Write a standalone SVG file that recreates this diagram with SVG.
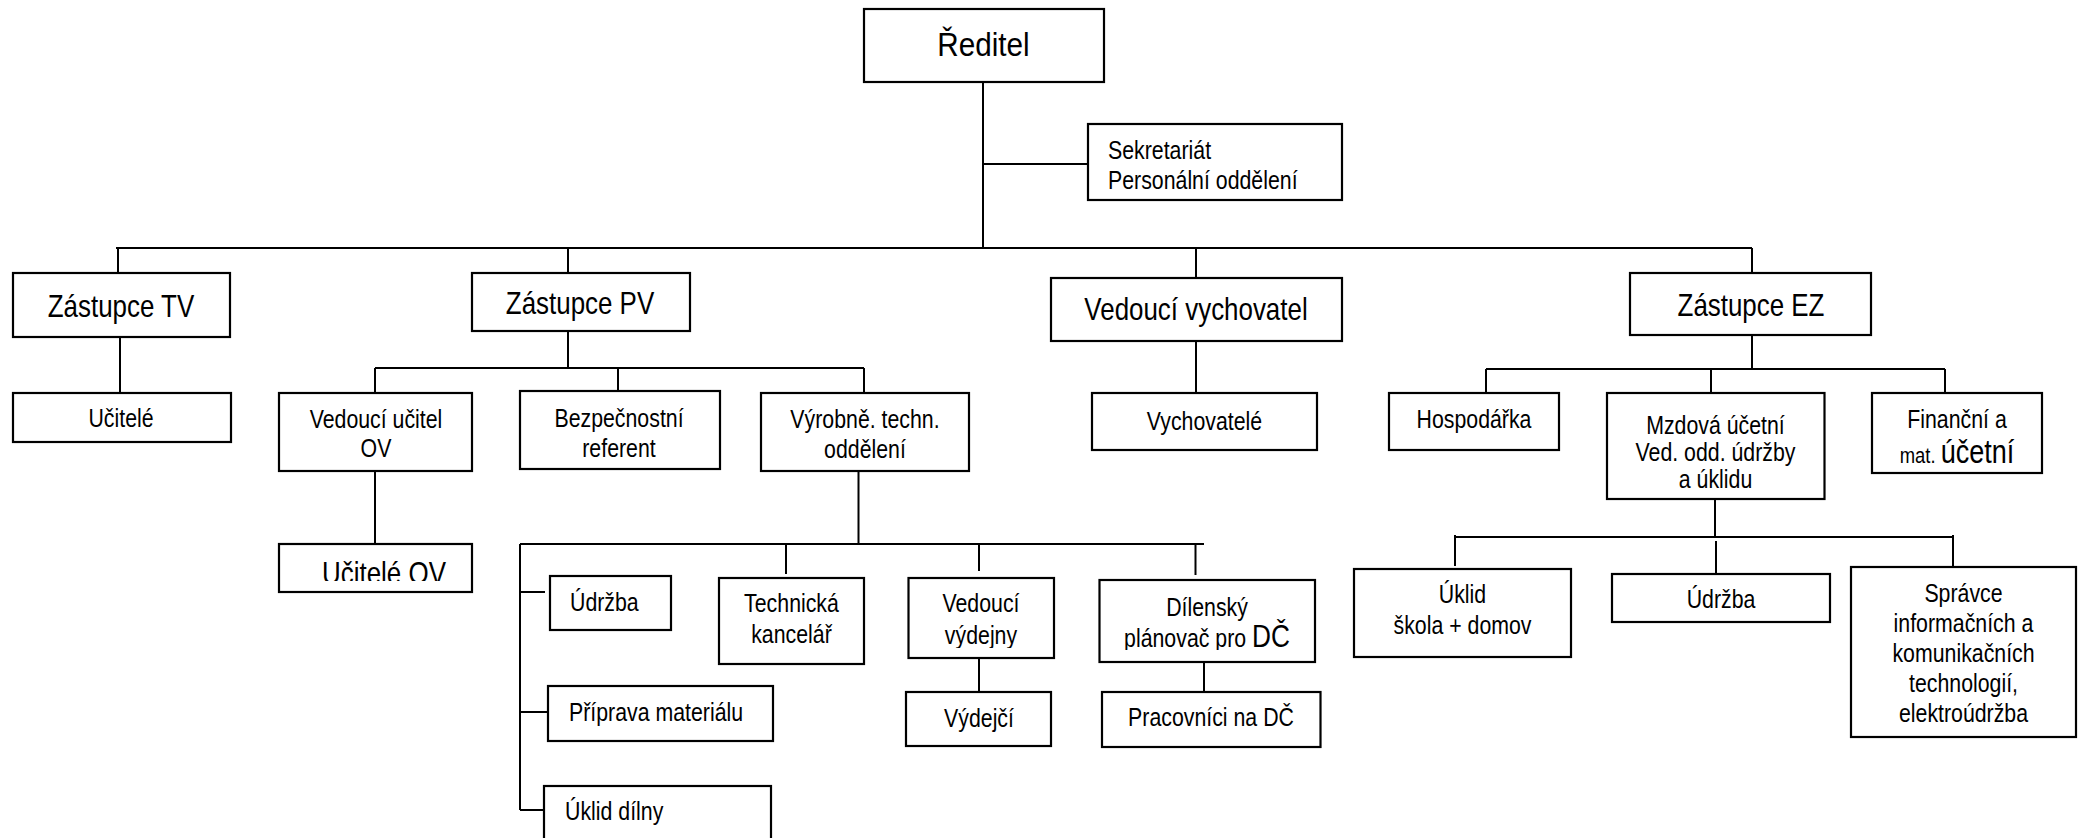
<svg xmlns="http://www.w3.org/2000/svg" width="2087" height="838" viewBox="0 0 2087 838">
<style>
  .box { fill: #fff; stroke: #000; stroke-width: 2.2; }
  .ln { fill: none; stroke: #000; stroke-width: 2; }
  text { font-family: "Liberation Sans", Arial, sans-serif; fill: #000; }
  .c { text-anchor: middle; }
  .s { text-anchor: start; }
  .big { font-size: 32px; }
  .sm { font-size: 26px; }
</style>
<defs>
  <clipPath id="clipUcOV"><rect x="279" y="544" width="193" height="37"/></clipPath>
  <clipPath id="clipVyd"><rect x="908" y="578" width="146" height="70"/></clipPath>
  <clipPath id="clipDil"><rect x="1099" y="580" width="216" height="70"/></clipPath>
  <clipPath id="clipMzd"><rect x="1607" y="393" width="218" height="97"/></clipPath>
</defs>
<rect width="2087" height="838" fill="#fff"/>

<g id="connectors">
  <path class="ln" d="M983,82 V248"/>
  <path class="ln" d="M983,164 H1088"/>
  <path class="ln" d="M116,248 H1752"/>
  <path class="ln" d="M118,248 V273"/>
  <path class="ln" d="M568,248 V273"/>
  <path class="ln" d="M1196,248 V278"/>
  <path class="ln" d="M1752,248 V273"/>
  <path class="ln" d="M120,337 V393"/>
  <path class="ln" d="M568,331 V368"/>
  <path class="ln" d="M375,368 H864"/>
  <path class="ln" d="M375,368 V393"/>
  <path class="ln" d="M618,368 V391"/>
  <path class="ln" d="M864,368 V393"/>
  <path class="ln" d="M375,471 V544"/>
  <path class="ln" d="M1196,341 V393"/>
  <path class="ln" d="M1752,335 V369"/>
  <path class="ln" d="M1486,369 H1945"/>
  <path class="ln" d="M1486,369 V393"/>
  <path class="ln" d="M1711,369 V393"/>
  <path class="ln" d="M1945,369 V393"/>
  <path class="ln" d="M858.5,471 V544"/>
  <path class="ln" d="M520,544 H1204"/>
  <path class="ln" d="M520,544 V810"/>
  <path class="ln" d="M520,592 H545"/>
  <path class="ln" d="M520,712 H548"/>
  <path class="ln" d="M520,810 H544"/>
  <path class="ln" d="M786,544 V574"/>
  <path class="ln" d="M979,544 V571"/>
  <path class="ln" d="M1195.5,544 V575"/>
  <path class="ln" d="M979,658 V692"/>
  <path class="ln" d="M1204,660 V692"/>
  <path class="ln" d="M1715,499 V537"/>
  <path class="ln" d="M1454,537 H1953"/>
  <path class="ln" d="M1455,535 V566"/>
  <path class="ln" d="M1716,541 V573"/>
  <path class="ln" d="M1953,535 V566"/>
</g>

<g id="reditel">
  <rect class="box" x="864" y="9" width="240" height="73"/>
  <text class="c" font-size="33" transform="translate(983.5,56) scale(0.9,1)">Ředitel</text>
</g>
<g id="sekretariat">
  <rect class="box" x="1088" y="124" width="254" height="76"/>
  <text class="s sm" transform="translate(1108,159) scale(0.82,1)">Sekretariát</text>
  <text class="s sm" transform="translate(1108,189) scale(0.82,1)">Personální oddělení</text>
</g>
<g id="zastupce-tv">
  <rect class="box" x="13" y="273" width="217" height="64"/>
  <text class="c big" transform="translate(121,316.5) scale(0.81,1)">Zástupce TV</text>
</g>
<g id="zastupce-pv">
  <rect class="box" x="472" y="273" width="218" height="58"/>
  <text class="c big" transform="translate(580,314) scale(0.81,1)">Zástupce PV</text>
</g>
<g id="vedouci-vychovatel">
  <rect class="box" x="1051" y="278" width="291" height="63"/>
  <text class="c big" transform="translate(1196,320) scale(0.81,1)">Vedoucí vychovatel</text>
</g>
<g id="zastupce-ez">
  <rect class="box" x="1630" y="273" width="241" height="62"/>
  <text class="c big" transform="translate(1751,315.5) scale(0.81,1)">Zástupce EZ</text>
</g>
<g id="ucitele">
  <rect class="box" x="13" y="393" width="218" height="49"/>
  <text class="c sm" transform="translate(121,427) scale(0.82,1)">Učitelé</text>
</g>
<g id="vedouci-ucitel-ov">
  <rect class="box" x="279" y="393" width="193" height="78"/>
  <text class="c sm" transform="translate(376,428) scale(0.82,1)">Vedoucí učitel</text>
  <text class="c sm" transform="translate(376,457) scale(0.82,1)">OV</text>
</g>
<g id="ucitele-ov">
  <rect class="box" x="279" y="544" width="193" height="48"/>
  <g clip-path="url(#clipUcOV)">
    <text class="c big" transform="translate(384,584) scale(0.81,1)">Učitelé OV</text>
  </g>
</g>
<g id="bezpecnostni-referent">
  <rect class="box" x="520" y="391" width="200" height="78"/>
  <text class="c sm" transform="translate(619,427) scale(0.82,1)">Bezpečnostní</text>
  <text class="c sm" transform="translate(619,457) scale(0.82,1)">referent</text>
</g>
<g id="vyrobne-techn-oddeleni">
  <rect class="box" x="761" y="393" width="208" height="78"/>
  <text class="c sm" transform="translate(865,428) scale(0.82,1)">Výrobně. techn.</text>
  <text class="c sm" transform="translate(865,458) scale(0.82,1)">oddělení</text>
</g>
<g id="vychovatele">
  <rect class="box" x="1092" y="393" width="225" height="57"/>
  <text class="c sm" transform="translate(1204.5,430) scale(0.82,1)">Vychovatelé</text>
</g>
<g id="hospodarka">
  <rect class="box" x="1389" y="393" width="170" height="57"/>
  <text class="c sm" transform="translate(1474,428) scale(0.82,1)">Hospodářka</text>
</g>
<g id="mzdova-ucetni">
  <rect class="box" x="1607" y="393" width="217.5" height="106"/>
  <g clip-path="url(#clipMzd)">
    <text class="c sm" transform="translate(1715.5,434) scale(0.82,1)">Mzdová účetní</text>
    <text class="c sm" transform="translate(1715.5,461) scale(0.82,1)">Ved. odd. údržby</text>
    <text class="c sm" transform="translate(1715.5,488) scale(0.82,1)">a úklidu</text>
  </g>
</g>
<g id="financni-ucetni">
  <rect class="box" x="1872" y="393" width="170" height="80"/>
  <text class="c sm" transform="translate(1957,428) scale(0.82,1)">Finanční a</text>
  <text class="c" transform="translate(1957,463) scale(0.82,1)"><tspan font-size="22.5">mat. </tspan><tspan font-size="33">účetní</tspan></text>
</g>
<g id="udrzba-vt">
  <rect class="box" x="550" y="576" width="121" height="54"/>
  <text class="s sm" transform="translate(570,611) scale(0.82,1)">Údržba</text>
</g>
<g id="priprava-materialu">
  <rect class="box" x="548" y="686" width="225" height="55"/>
  <text class="s sm" transform="translate(569,721) scale(0.82,1)">Příprava materiálu</text>
</g>
<g id="uklid-dilny">
  <rect class="box" x="544" y="786" width="227" height="62"/>
  <text class="s sm" transform="translate(565,820) scale(0.82,1)">Úklid dílny</text>
</g>
<g id="technicka-kancelar">
  <rect class="box" x="719" y="578" width="145" height="86"/>
  <text class="c sm" transform="translate(791.5,612) scale(0.82,1)">Technická</text>
  <text class="c sm" transform="translate(791.5,643) scale(0.82,1)">kancelář</text>
</g>
<g id="vedouci-vydejny">
  <rect class="box" x="908.5" y="578" width="145.5" height="80"/>
  <g clip-path="url(#clipVyd)">
    <text class="c sm" transform="translate(981,612) scale(0.82,1)">Vedoucí</text>
    <text class="c sm" transform="translate(981,644) scale(0.82,1)">výdejny</text>
  </g>
</g>
<g id="dilensky-planovac">
  <rect class="box" x="1099.5" y="580" width="215.5" height="82"/>
  <g clip-path="url(#clipDil)">
    <text class="c sm" transform="translate(1207,616) scale(0.82,1)">Dílenský</text>
    <text class="c" transform="translate(1207,647) scale(0.82,1)"><tspan font-size="26">plánovač pro </tspan><tspan font-size="32">DČ</tspan></text>
  </g>
</g>
<g id="vydejci">
  <rect class="box" x="906" y="692" width="145" height="54"/>
  <text class="c sm" transform="translate(979,727) scale(0.82,1)">Výdejčí</text>
</g>
<g id="pracovnici-na-dc">
  <rect class="box" x="1102" y="692" width="218.5" height="55"/>
  <text class="c sm" transform="translate(1211,726) scale(0.82,1)">Pracovníci na DČ</text>
</g>
<g id="uklid-skola-domov">
  <rect class="box" x="1354" y="569" width="217" height="88"/>
  <text class="c sm" transform="translate(1462.5,603) scale(0.82,1)">Úklid</text>
  <text class="c sm" transform="translate(1462.5,634) scale(0.82,1)">škola + domov</text>
</g>
<g id="udrzba-ez">
  <rect class="box" x="1612" y="574" width="218" height="48"/>
  <text class="c sm" transform="translate(1721,608) scale(0.82,1)">Údržba</text>
</g>
<g id="spravce-ikt">
  <rect class="box" x="1851" y="567" width="225" height="170"/>
  <text class="c sm" transform="translate(1963.5,602) scale(0.82,1)">Správce</text>
  <text class="c sm" transform="translate(1963.5,632) scale(0.82,1)">informačních a</text>
  <text class="c sm" transform="translate(1963.5,662) scale(0.82,1)">komunikačních</text>
  <text class="c sm" transform="translate(1963.5,692) scale(0.82,1)">technologií,</text>
  <text class="c sm" transform="translate(1963.5,722) scale(0.82,1)">elektroúdržba</text>
</g>
</svg>
